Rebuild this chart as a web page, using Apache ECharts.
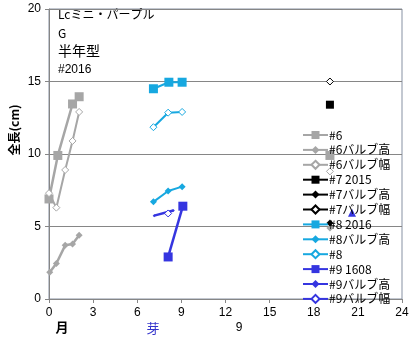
<!DOCTYPE html>
<html>
<head>
<meta charset="utf-8">
<script src="https://cdn.jsdelivr.net/npm/echarts@6/dist/echarts.min.js"></script>
<style>
  html, body { margin: 0; padding: 0; background: #fff; }
  #chart { width: 419px; height: 341px; }
</style>
</head>
<body>
<div id="chart"></div>
<script>
// 月数(x) と 長さcm(y) — 途中の '-' は線を切る
const s6      = [[0, 6.9], [0.6, 9.9], [1.6, 13.45], [2.05, 13.95], '-', [19.1, 9.9]];
const s6High  = [[0.05, 1.85], [0.5, 2.45], [1.1, 3.7], [1.6, 3.8], [2.05, 4.4], '-', [19.1, 4.9]];
const s6Width = [[0, 7.3], [0.5, 6.3], [1.1, 8.9], [1.6, 10.9], [2.05, 12.9], '-', [19.1, 8.8]];
const s7      = [[19.1, 13.4]];
const s7High  = [[19.1, 5.25]];
const s7Width = [[19.1, 15.0]];
const s8      = [[7.1, 14.5], [8.15, 14.95], [9.05, 14.95]];
const s8High  = [[7.1, 6.7], [8.1, 7.45], [9.05, 7.75]];
const s8Width = [[7.1, 11.85], [8.1, 12.85], [9.05, 12.9]];
const s9      = [[8.1, 2.9], [9.1, 6.4]];
const s9High  = [[7.15, 5.75], [8.45, 6.1]];
const s9Width = [[8.1, 5.9]];
const s9Extra = [[20.6, 5.95]];
const xTicks = [0, 3, 6, 9, 12, 15, 18, 21, 24];
const yTicks = [0, 5, 10, 15, 20];

const GRAY = '#a6a6a6', BLACK = '#000000', SKY = '#17a8e0', BLUE = '#3535e0';
const numFont = '"Liberation Sans", Arial, sans-serif';
const jpFont = '"Noto Sans CJK JP", sans-serif';

function line(name, data, color, symbol, size, opts) {
    opts = opts || {};
    return {
        name: name, type: 'line', data: data,
        symbol: symbol, symbolSize: size,
        connectNulls: false,
        lineStyle: { color: color, width: opts.width || 2.5 },
        itemStyle: opts.open
            ? { color: '#ffffff', borderColor: color, borderWidth: 1 }
            : { color: color },
        emphasis: { disabled: true },
        animation: false
    };
}

const chart = echarts.init(document.getElementById('chart'));
chart.setOption({
    animation: false,
    grid: {
        left: 49, right: 17, top: 9, bottom: 42,
        show: true, borderColor: '#8791a3', borderWidth: 1
    },
    xAxis: {
        type: 'value', min: xTicks[0], max: xTicks[xTicks.length - 1], interval: 3,
        axisLine: { lineStyle: { color: '#868686' } },
        axisTick: { inside: false, length: 4, lineStyle: { color: '#868686' } },
        splitLine: { show: false },
        axisLabel: { color: '#000', fontFamily: numFont, fontSize: 12, margin: 8 }
    },
    yAxis: {
        type: 'value', min: yTicks[0], max: yTicks[yTicks.length - 1], interval: 5,
        axisLine: { show: true, lineStyle: { color: '#868686' } },
        axisTick: { show: true, length: 4, lineStyle: { color: '#868686' } },
        splitLine: { lineStyle: { color: '#868686' } },
        axisLabel: { color: '#000', fontFamily: numFont, fontSize: 12, margin: 8 }
    },
    legend: {
        orient: 'vertical', left: 302, top: 129, padding: 0,
        itemWidth: 25, itemHeight: 10, itemGap: 2.9,
        data: ['#6', '#6バルブ高', '#6バルブ幅', '#7 2015', '#7バルブ高', '#7バルブ幅',
               '#8 2016', '#8バルブ高', '#8', '#9 1608', '#9バルブ高', '#9バルブ幅'],
        textStyle: { fontFamily: jpFont, fontSize: 12, lineHeight: 12, color: '#000', padding: [0, 0, 0, -4] },
        selectedMode: false
    },
    graphic: [
        { type: 'text', left: 58, top: 8, style: { text: 'Lcミニ・パープル', font: '12px ' + jpFont, fill: '#000' } },
        { type: 'text', left: 58, top: 27, style: { text: 'G', font: '12px ' + jpFont, fill: '#000' } },
        { type: 'text', left: 58, top: 44, style: { text: '半年型', font: '14px ' + jpFont, fill: '#000' } },
        { type: 'text', left: 58, top: 64, style: { text: '#2016', font: '12px ' + numFont, fill: '#000' } },
        { type: 'text', x: 14, y: 130, rotation: Math.PI / 2,
          style: { text: '全長(cm)', font: 'bold 12px ' + jpFont, fill: '#000', align: 'center', verticalAlign: 'middle' } },
        { type: 'text', x: 62, y: 327, style: { text: '月', font: 'bold 13px ' + jpFont, fill: '#000', align: 'center', verticalAlign: 'middle' } },
        { type: 'text', x: 153, y: 328, style: { text: '芽', font: '13px ' + jpFont, fill: '#3333cc', align: 'center', verticalAlign: 'middle' } },
        { type: 'text', x: 239, y: 328, style: { text: '9', font: '12px ' + numFont, fill: '#000', align: 'center', verticalAlign: 'middle' } }
    ],
    series: [
        line('#6', s6, GRAY, 'rect', 9),
        line('#6バルブ高', s6High, GRAY, 'diamond', 7),
        line('#6バルブ幅', s6Width, GRAY, 'diamond', 7, { open: true, width: 2 }),
        line('#7 2015', s7, BLACK, 'rect', 8),
        line('#7バルブ高', s7High, BLACK, 'diamond', 7),
        line('#7バルブ幅', s7Width, BLACK, 'diamond', 7, { open: true }),
        line('#8 2016', s8, SKY, 'rect', 9, { width: 2 }),
        line('#8バルブ高', s8High, SKY, 'diamond', 7, { width: 2 }),
        line('#8', s8Width, SKY, 'diamond', 7, { open: true, width: 2 }),
        line('#9 1608', s9, BLUE, 'rect', 9),
        line('#9バルブ高', s9High, BLUE, 'diamond', 3),
        line('#9バルブ幅', s9Width, BLUE, 'diamond', 7, { open: true }),
        line('#9 他', s9Extra, BLUE, 'triangle', 8)
    ]
});
</script>
</body>
</html>
